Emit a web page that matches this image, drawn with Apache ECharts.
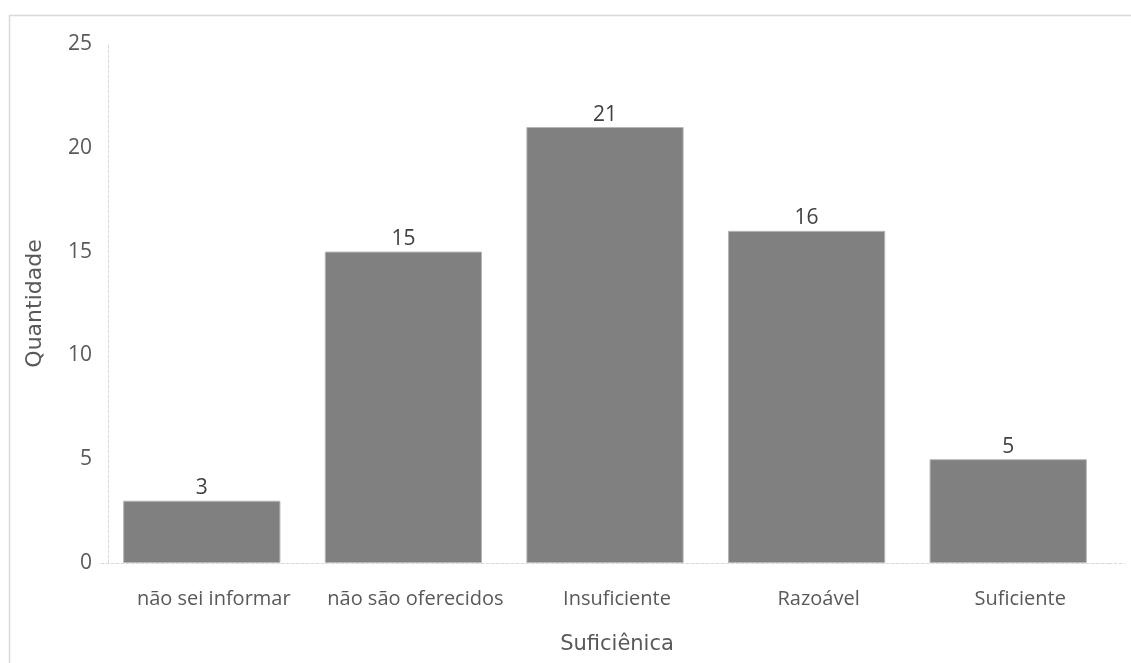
<!DOCTYPE html>
<html>
<head>
<meta charset="utf-8">
<script src="https://cdn.jsdelivr.net/npm/echarts@6/dist/echarts.min.js"></script>
<style>
  html, body { margin: 0; padding: 0; background: #ffffff; }
  #chart { width: 1131px; height: 663px; }
</style>
</head>
<body>
<div id="chart"></div>
<script>
// Categories and counts
const categories = ['não sei informar', 'não são oferecidos', 'Insuficiente', 'Razoável', 'Suficiente'];
const counts = [3, 15, 21, 16, 5];
const yTicks = [0, 5, 10, 15, 20, 25];
const xTitle = 'Suficiênica';
const yTitle = 'Quantidade';

const chart = echarts.init(document.getElementById('chart'), null, { renderer: 'canvas' });

chart.setOption({
  backgroundColor: '#ffffff',
  animation: false,
  graphic: [{
    // outer chart frame
    type: 'rect',
    shape: { x: 9.5, y: 15.5, width: 1140, height: 680 },
    style: { fill: 'none', stroke: '#d9d9d9', lineWidth: 1.5 },
    silent: true
  }, {
    // baseline continues a little past the last category
    type: 'line',
    shape: { x1: 1109, y1: 563.5, x2: 1125, y2: 563.5 },
    style: { stroke: '#d9d9d9', lineWidth: 1, lineDash: [3, 2] },
    silent: true
  }],
  grid: { left: 101, right: 22, top: 44, bottom: 100, containLabel: false },
  xAxis: {
    type: 'category',
    data: categories,
    name: xTitle,
    nameLocation: 'middle',
    nameGap: 71,
    nameTextStyle: { fontFamily: 'DejaVu Sans', fontSize: 21, color: '#595959', padding: [0, 0, 0, 24] },
    axisLine: { show: true, lineStyle: { color: '#d9d9d9', type: [3, 2], width: 1 } },
    axisTick: { show: false },
    axisLabel: {
      interval: 0, hideOverlap: false, margin: 26,
      fontFamily: 'Open Sans', fontSize: 20, color: '#595959',
      padding: [0, 0, 0, 24]
    }
  },
  yAxis: {
    type: 'value',
    min: yTicks[0],
    max: yTicks[yTicks.length - 1],
    interval: 5,
    offset: -7,
    name: yTitle,
    nameLocation: 'middle',
    nameGap: 62,
    nameTextStyle: { fontFamily: 'DejaVu Sans', fontSize: 22, color: '#595959' },
    axisLine: { show: true, lineStyle: { color: '#d9d9d9', type: [3, 2], width: 1 } },
    axisTick: { show: false },
    splitLine: { show: false },
    axisLabel: { margin: 16, fontFamily: 'Open Sans', fontSize: 21, color: '#595959', padding: [4, 0, 0, 0] }
  },
  series: [{
    type: 'bar',
    data: counts,
    barWidth: '78%',
    itemStyle: { color: '#808080', borderColor: '#b5b5b5', borderWidth: 1 },
    label: {
      show: true,
      position: 'top',
      distance: 2,
      fontFamily: 'Open Sans',
      fontSize: 21,
      color: '#404040'
    }
  }]
});
</script>
</body>
</html>
